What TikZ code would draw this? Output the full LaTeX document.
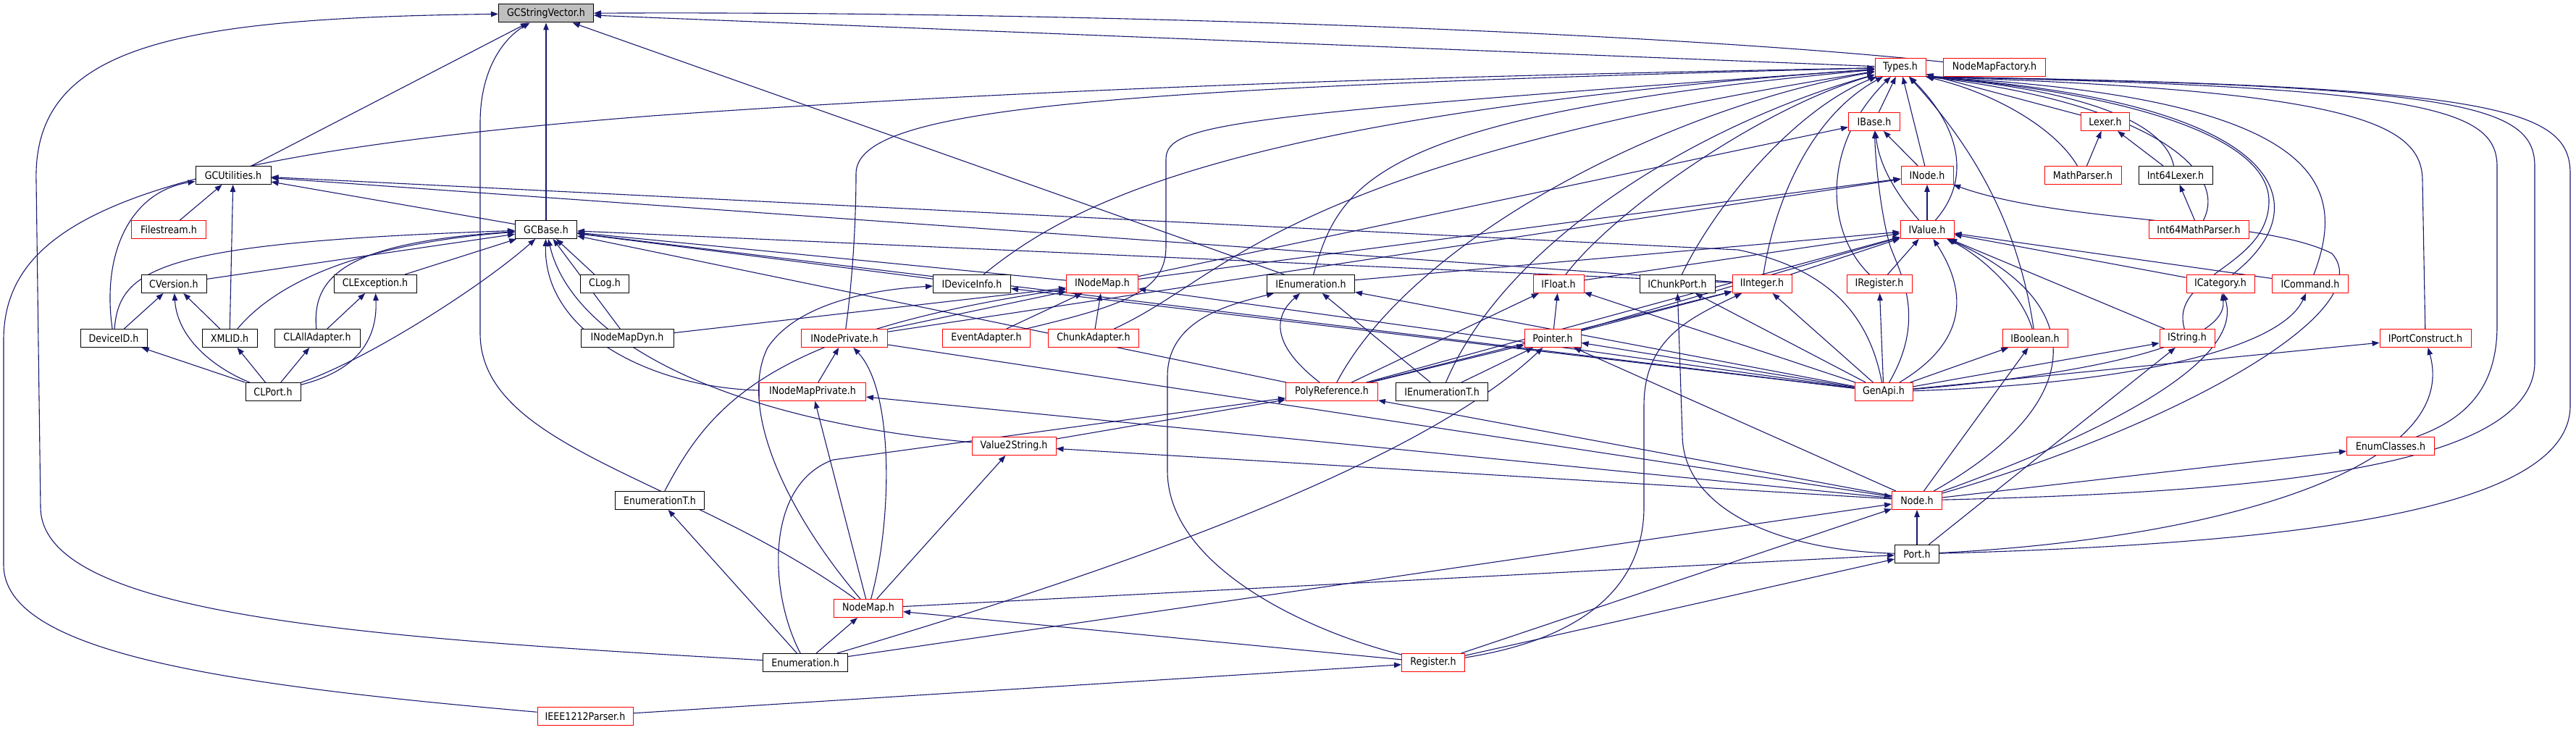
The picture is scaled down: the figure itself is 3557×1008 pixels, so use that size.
\documentclass[tikz,border=0pt]{standalone}
\usepackage{fontspec}
\setmainfont{DejaVu Sans}[FakeStretch=0.88]
\usetikzlibrary{arrows.meta,backgrounds}
\definecolor{edgeblue}{HTML}{191970}
\definecolor{rootgrey}{HTML}{BFBFBF}
\tikzset{
  hdr/.style={draw=black, fill=white, line width=1pt, minimum height=25, inner sep=0pt,
    font=\fontsize{14.4}{17}\selectfont},
  trunc/.style={hdr, draw=red},
  root/.style={hdr, fill=rootgrey},
  dep/.style={draw=edgeblue, line width=1.1pt, -{Triangle[length=10pt,width=7.5pt]}},
}
\begin{document}
\begin{tikzpicture}[x=1pt, y=-1pt]
    \useasboundingbox (0,0) rectangle (3557,1008);
    %top
    \node[root, minimum width=131] (gcsv) at (754,18.5) {GCStringVector.h};
    \node[trunc, minimum width=70] (types) at (2624,93) {Types.h};
    \node[trunc, minimum width=141] (nmfact) at (2754,93) {NodeMapFactory.h};
    \node[trunc, minimum width=71] (ibase) at (2588,168) {IBase.h};
    \node[trunc, minimum width=67] (lexer) at (2907,168) {Lexer.h};
    \node[hdr, minimum width=104] (gcutil) at (322,242) {GCUtilities.h};
    \node[trunc, minimum width=72] (inode) at (2661,242) {INode.h};
    \node[trunc, minimum width=106] (mathp) at (2876,242) {MathParser.h};
    \node[hdr, minimum width=102] (i64lex) at (3004,242) {Int64Lexer.h};
    \node[trunc, minimum width=103] (filestr) at (233,317) {Filestream.h};
    \node[hdr, minimum width=85] (gcbase) at (754,317) {GCBase.h};
    \node[trunc, minimum width=74] (ivalue) at (2661,317) {IValue.h};
    \node[trunc, minimum width=138] (i64mp) at (3036,317) {Int64MathParser.h};
    %interfaces
    \node[hdr, minimum width=90] (cversion) at (240,392) {CVersion.h};
    \node[hdr, minimum width=114] (clexc) at (518,392) {CLException.h};
    \node[hdr, minimum width=67] (clog) at (835,392) {CLog.h};
    \node[hdr, minimum width=107] (idevinfo) at (1342,392) {IDeviceInfo.h};
    \node[trunc, minimum width=99] (inodemap) at (1522,392) {INodeMap.h};
    \node[hdr, minimum width=121] (ienum) at (1810,392) {IEnumeration.h};
    \node[trunc, minimum width=70] (ifloat) at (2152,392) {IFloat.h};
    \node[hdr, minimum width=104] (ichunk) at (2316,392) {IChunkPort.h};
    \node[trunc, minimum width=82] (iint) at (2433,392) {IInteger.h};
    \node[trunc, minimum width=90] (ireg) at (2595,392) {IRegister.h};
    \node[trunc, minimum width=94] (icat) at (3066,392) {ICategory.h};
    \node[trunc, minimum width=105] (icmd) at (3190,392) {ICommand.h};
    \node[hdr, minimum width=92] (devid) at (157,467) {DeviceID.h};
    \node[hdr, minimum width=76] (xmlid) at (317,467) {XMLID.h};
    \node[hdr, minimum width=118] (clall) at (438,467) {CLAllAdapter.h};
    \node[hdr, minimum width=128] (nmdyn) at (866,467) {INodeMapDyn.h};
    \node[trunc, minimum width=119] (inodepriv) at (1166,467) {INodePrivate.h};
    \node[trunc, minimum width=121] (eventad) at (1362,467) {EventAdapter.h};
    \node[trunc, minimum width=125] (chunkad) at (1510,467) {ChunkAdapter.h};
    \node[trunc, minimum width=78] (pointer) at (2144,467) {Pointer.h};
    \node[trunc, minimum width=90] (ibool) at (2810,467) {IBoolean.h};
    \node[trunc, minimum width=76] (istring) at (3020,467) {IString.h};
    \node[trunc, minimum width=126] (iportc) at (3349,467) {IPortConstruct.h};
    %lower part
    \node[hdr, minimum width=76] (clport) at (377,541) {CLPort.h};
    \node[trunc, minimum width=147] (nmpriv) at (1122,541) {INodeMapPrivate.h};
    \node[trunc, minimum width=127] (polyref) at (1839,541) {PolyReference.h};
    \node[hdr, minimum width=127] (ienumt) at (1991,541) {IEnumerationT.h};
    \node[trunc, minimum width=80] (genapi) at (2601,541) {GenApi.h};
    \node[trunc, minimum width=116] (v2s) at (1400,616) {Value2String.h};
    \node[trunc, minimum width=121] (enumcl) at (3301,616) {EnumClasses.h};
    \node[hdr, minimum width=123] (enumt) at (911,691) {EnumerationT.h};
    \node[trunc, minimum width=69] (nodeh) at (2647,691) {Node.h};
    \node[hdr, minimum width=61] (porth) at (2647,765) {Port.h};
    \node[trunc, minimum width=95] (nodemap) at (1199,840) {NodeMap.h};
    \node[hdr, minimum width=117] (enumer) at (1112,915) {Enumeration.h};
    \node[trunc, minimum width=87] (reg) at (1979,915) {Register.h};
    \node[trunc, minimum width=132] (ieee) at (808,989) {IEEE1212Parser.h};

    \begin{scope}[on background layer]
    %straight includes
    \foreach \a/\b in {types/gcsv, gcutil/gcsv, gcbase/gcsv, ienum/gcsv,
        gcbase/gcutil, filestr/gcutil, xmlid/gcutil, iint/gcutil,
        cversion/gcbase, clexc/gcbase, clog/gcbase, nmdyn/gcbase, idevinfo/gcbase,
        inodemap/gcbase, polyref/gcbase, genapi/gcbase, iint/gcbase,
        devid/cversion, xmlid/cversion, clall/clexc, clport/devid, clport/xmlid, clport/clall,
        lexer/types, inode/types, ibase/types, inode/ibase, inodemap/ibase,
        ivalue/inode, inodemap/inode, inodepriv/inode,
        mathp/lexer, i64lex/lexer, i64mp/i64lex,
        ienum/ivalue, ifloat/ivalue, iint/ivalue, ireg/ivalue, istring/ivalue,
        icat/ivalue, icmd/ivalue, polyref/ivalue, pointer/ivalue,
        nmdyn/inodemap, inodepriv/inodemap, eventad/inodemap, chunkad/inodemap,
        genapi/inodemap, genapi/idevinfo,
        nmpriv/inodepriv, nodemap/nmpriv, nodeh/nmpriv, nodemap/v2s, nodeh/v2s,
        v2s/polyref, nodeh/polyref,
        ienumt/ienum, genapi/ienum, pointer/ifloat, polyref/ifloat, genapi/ifloat,
        pointer/iint, polyref/iint, genapi/iint, genapi/ichunk, genapi/ireg,
        polyref/pointer, ienumt/pointer, genapi/pointer, nodeh/pointer,
        genapi/ibool, genapi/istring, genapi/iportc, nodeh/ibool, nodeh/enumcl,
        porth/istring, porth/nodeh,
        enumer/enumt, enumer/nodemap, reg/nodemap, ieee/reg, nodemap/porth,
        enumer/nodeh, reg/nodeh, reg/porth, inodepriv/nodeh}
        \draw[dep] (\a) -- (\b);
    %long curves on the left
    \draw[dep] (nmfact) .. controls (2300,45) and (1500,15) .. (gcsv);
    \draw[dep] (enumer) .. controls (500,880) and (56,850) .. (56,700) -- (50,250)
        .. controls (45,60) and (250,25) .. (gcsv);
    \draw[dep] (nodemap) .. controls (950,660) and (663,620) .. (663,460) -- (663,170)
        .. controls (663,90) and (700,50) .. (gcsv);
    \draw[dep] (ieee) .. controls (300,945) and (5,900) .. (5,780) -- (5,470)
        .. controls (5,300) and (200,215) .. (900,160) .. controls (1600,110) and (2300,100) .. (types);
    \draw[dep] (inodepriv) .. controls (1178,380) and (1182,300) .. (1182,240)
        .. controls (1182,150) and (1500,122) .. (types);
    \draw[dep] (idevinfo) .. controls (1480,280) and (1700,160) .. (types);
    \draw[dep] (ienum) .. controls (1850,250) and (1900,160) .. (types);
    \draw[dep] (eventad) .. controls (1560,420) and (1610,400) .. (1610,340) -- (1610,220)
        .. controls (1610,170) and (1700,160) .. (types);
    \draw[dep] (chunkad) .. controls (1700,380) and (1760,230) .. (types);
    %curves into Types.h from below
    \draw[dep] (ifloat) .. controls (2230,290) and (2430,150) .. (types);
    \draw[dep] (ichunk) .. controls (2370,280) and (2480,150) .. (types);
    \draw[dep] (iint) .. controls (2450,280) and (2500,160) .. (types);
    \draw[dep] (ireg) .. controls (2520,320) and (2515,200) .. (types);
    \draw[dep] (ivalue) .. controls (2720,250) and (2710,180) .. (types);
    \draw[dep] (ibool) .. controls (2790,330) and (2740,220) .. (types);
    \draw[dep] (polyref) .. controls (1950,330) and (2300,150) .. (types);
    \draw[dep] (ienumt) .. controls (2080,330) and (2350,170) .. (types);
    %curves into Types.h from the right, under NodeMapFactory.h
    \draw[dep] (mathp) .. controls (2840,180) and (2760,130) .. (types.south east);
    \draw[dep] (i64lex) .. controls (2990,170) and (2880,125) .. (types.south east);
    \draw[dep] (i64mp) .. controls (3080,230) and (2950,140) .. (types.south east);
    \draw[dep] (istring) .. controls (2995,380) and (3130,370) .. (3133,280)
        .. controls (3136,180) and (2900,125) .. (types.south east);
    \draw[dep] (icat) .. controls (3210,280) and (3150,140) .. (types.south east);
    \draw[dep] (icmd) .. controls (3240,260) and (3220,135) .. (types.south east);
    \draw[dep] (iportc) -- (3345,250) .. controls (3345,170) and (3250,125) .. (types.south east);
    \draw[dep] (enumcl) .. controls (3400,580) and (3448,540) .. (3448,450) -- (3448,230)
        .. controls (3448,150) and (3350,120) .. (types.south east);
    \draw[dep] (nodeh) .. controls (3100,680) and (3500,650) .. (3500,500) -- (3500,230)
        .. controls (3500,145) and (3400,118) .. (types.south east);
    \draw[dep] (porth) .. controls (3200,750) and (3549,700) .. (3549,560) -- (3549,240)
        .. controls (3549,150) and (3450,118) .. (types.south east);
    %GCUtilities.h and GCBase.h
    \draw[dep] (devid) .. controls (140,350) and (180,265) .. (gcutil);
    \draw[dep] (genapi) .. controls (2580,430) and (2520,370) .. (2400,345) -- (gcutil);
    \draw[dep] (devid) .. controls (165,370) and (220,335) .. (gcbase);
    \draw[dep] (xmlid) .. controls (390,380) and (520,335) .. (gcbase);
    \draw[dep] (clall) .. controls (430,380) and (480,335) .. (gcbase);
    \draw[dep] (clport) .. controls (500,500) and (660,400) .. (gcbase);
    \draw[dep] (clport) .. controls (300,510) and (245,470) .. (cversion);
    \draw[dep] (clport) .. controls (480,515) and (522,480) .. (clexc);
    \draw[dep] (nmpriv) .. controls (900,535) and (750,460) .. (gcbase);
    \draw[dep] (v2s) .. controls (1000,580) and (790,470) .. (gcbase);
    %IBase.h, INode.h, IValue.h
    \draw[dep] (ivalue) .. controls (2620,270) and (2595,230) .. (ibase);
    \draw[dep] (genapi) .. controls (2660,440) and (2625,380) .. (2610,340)
        .. controls (2598,300) and (2590,230) .. (ibase);
    \draw[dep] (genapi) .. controls (2720,470) and (2715,400) .. (ivalue);
    \draw[dep] (ibool) .. controls (2790,400) and (2730,350) .. (ivalue);
    \draw[dep] (nodeh) .. controls (2880,560) and (2890,420) .. (ivalue);
    \draw[dep] (nodeh) .. controls (3000,590) and (3290,430) .. (3220,350)
        .. controls (3120,300) and (2850,310) .. (inode);
    \draw[dep] (nodeh) .. controls (2900,600) and (3100,500) .. (icat);
    \draw[dep] (genapi) .. controls (2850,520) and (3080,480) .. (icat);
    \draw[dep] (genapi) .. controls (2950,530) and (3150,480) .. (icmd);
    %node maps
    \draw[dep] (enumt) .. controls (980,560) and (1060,460) .. (inodemap);
    \draw[dep] (nodemap) .. controls (1080,700) and (1020,560) .. (1060,480)
        .. controls (1100,420) and (1200,400) .. (idevinfo);
    \draw[dep] (nodemap) .. controls (1232,720) and (1235,540) .. (inodepriv);
    \draw[dep] (enumer) .. controls (1062,820) and (1055,670) .. (1150,635) -- (polyref);
    \draw[dep] (polyref) .. controls (1760,480) and (1755,440) .. (ienum);
    %Register.h and Port.h
    \draw[dep] (reg) .. controls (1800,870) and (1612,780) .. (1612,650) -- (1612,520)
        .. controls (1612,440) and (1700,420) .. (ienum);
    \draw[dep] (reg) .. controls (2200,880) and (2270,800) .. (2270,700) -- (2270,560)
        .. controls (2270,470) and (2330,440) .. (iint);
    \draw[dep] (porth) .. controls (2450,760) and (2323,700) .. (2323,600) -- (ichunk);
    \draw[dep] (porth) .. controls (3050,745) and (3400,650) .. (iportc);
    \draw[dep] (enumer) .. controls (1500,800) and (1950,650) .. (pointer);
    \end{scope}
\end{tikzpicture}
\end{document}
